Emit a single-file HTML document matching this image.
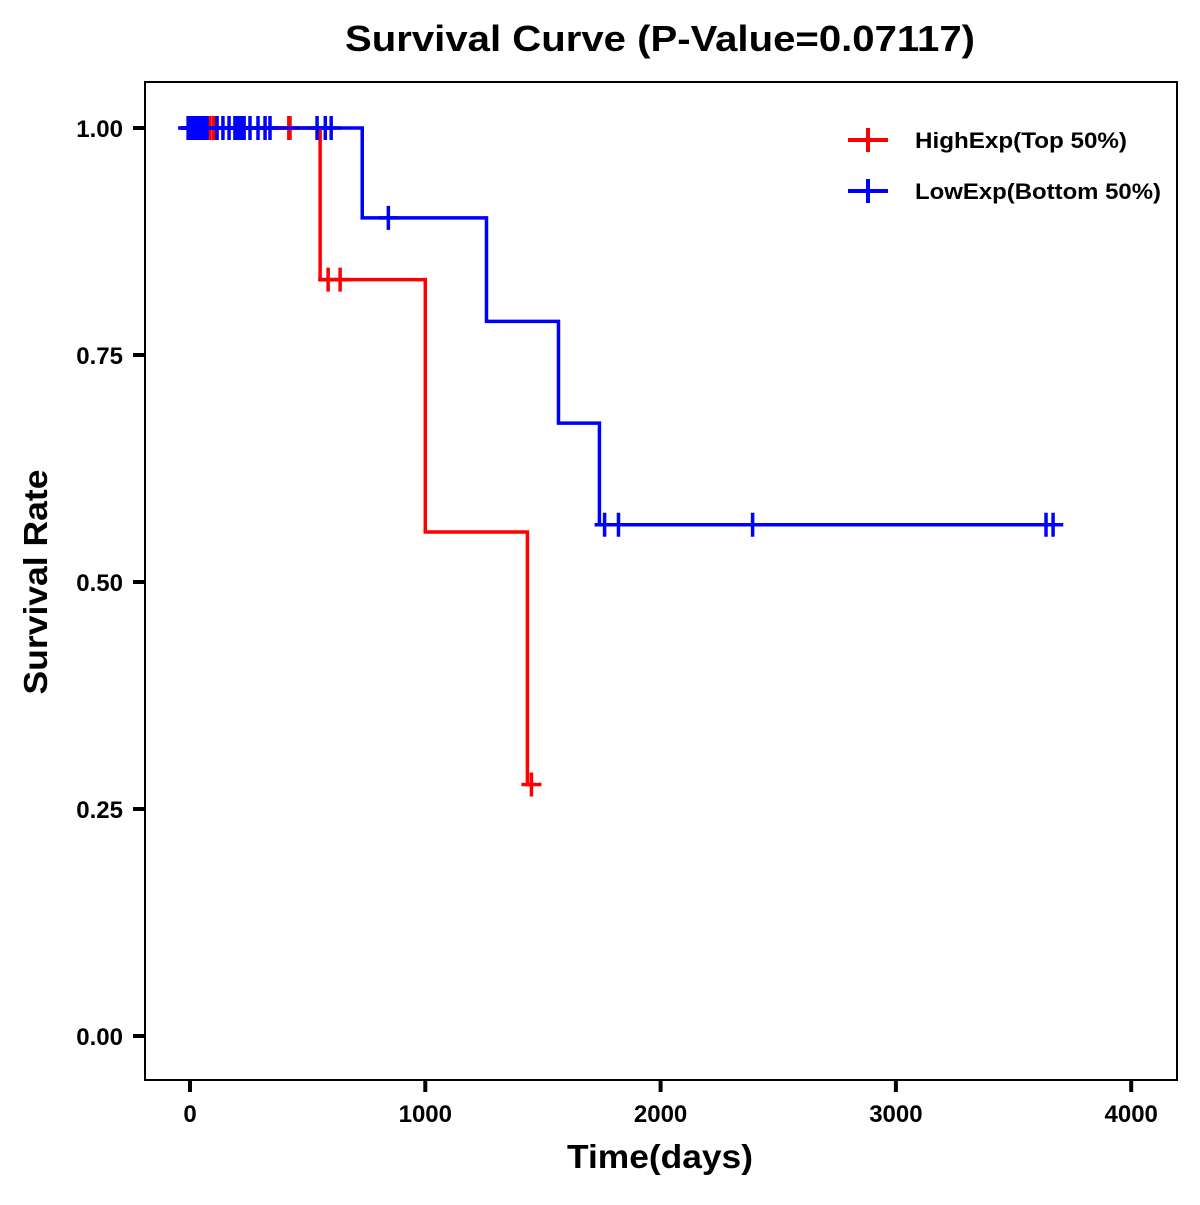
<!DOCTYPE html>
<html><head><meta charset="utf-8"><style>
body{margin:0;background:#fff}
svg text{font-family:"Liberation Sans",Arial,sans-serif;font-weight:bold}
</style></head><body>
<svg id="chart" width="1200" height="1200" xmlns="http://www.w3.org/2000/svg">
<text x="660" y="51" text-anchor="middle" font-size="36" textLength="630" lengthAdjust="spacingAndGlyphs">Survival Curve (P-Value=0.07117)</text>
<rect x="145" y="82" width="1032" height="998" fill="none" stroke="#000" stroke-width="2"/>
<g id="axes"></g>
<g id="series"></g>
<text x="660" y="1168" text-anchor="middle" font-size="33" textLength="186" lengthAdjust="spacingAndGlyphs">Time(days)</text>
<text transform="translate(47,582) rotate(-90)" text-anchor="middle" font-size="33" textLength="225" lengthAdjust="spacingAndGlyphs">Survival Rate</text>
<g>
<g>
<line x1="848" y1="140" x2="888" y2="140" stroke="#f00" stroke-width="4"/><line x1="868" y1="128" x2="868" y2="152" stroke="#f00" stroke-width="4"/>
<text x="915" y="148" font-size="22" textLength="212" lengthAdjust="spacingAndGlyphs">HighExp(Top 50%)</text></g>
<g>
<line x1="848" y1="191" x2="888" y2="191" stroke="#00f" stroke-width="4"/><line x1="868" y1="179" x2="868" y2="203" stroke="#00f" stroke-width="4"/>
<text x="915" y="199" font-size="22" textLength="246" lengthAdjust="spacingAndGlyphs">LowExp(Bottom 50%)</text></g>
</g>
</svg>
<script>
const xTicks=[0,1000,2000,3000,4000];
const yTicks=[0,0.25,0.5,0.75,1.0];
const yTickLabels=["0.00","0.25","0.50","0.75","1.00"];
const highTimes=[-40,553,1000,1434,1451];
const highSurv=[1.0,0.833,0.555,0.277,0.277];
const highCensor=[0,13,25,34,38,43,55,64,68,85,101,102,420,425,587,638,1451];
const lowTimes=[-40,732,1260,1566,1740,3711];
const lowSurv=[1.0,0.901,0.787,0.675,0.563,0.563];
const lowCensor=[-8,0,9,17,26,34,43,51,60,72,115,140,166,191,204,217,230,255,289,319,340,540,575,600,843,1762,1821,2391,3638,3668];
const X=t=>190+t*0.2353, Y=s=>1036-s*908;
const NS="http://www.w3.org/2000/svg";
function mk(tag,attrs,parent){const e=document.createElementNS(NS,tag);for(const k in attrs)e.setAttribute(k,attrs[k]);parent.appendChild(e);return e;}
const ax=document.getElementById('axes');
xTicks.forEach(v=>{
 const g=mk('g',{},ax);
 
 
 mk('line',{x1:X(v),x2:X(v),y1:1080,y2:1092,stroke:'#000','stroke-width':4},g);
 const t=mk('text',{x:X(v),y:1122,'text-anchor':'middle','font-size':24},g);t.textContent=v;
});
yTicks.forEach((v,i)=>{
 const g=mk('g',{},ax);
 
 
 mk('line',{x1:133,x2:145,y1:Y(v),y2:Y(v),stroke:'#000','stroke-width':4},g);
 const t=mk('text',{x:123,y:Y(v)+9,'text-anchor':'end','font-size':24},g);t.textContent=yTickLabels[i];
});
const sg=document.getElementById('series');
function series(name,times,surv,cens,col){
 const g=mk('g',{},sg);
 
 
 let d='M'+X(times[0])+','+Y(surv[0]);
 for(let i=1;i<times.length;i++){d+=' H'+X(times[i])+' V'+Y(surv[i]);}
 const p=mk('path',{d:d,fill:'none',stroke:col,'stroke-width':3.5},g);
 
 
 cens.forEach(c=>{
  let s=surv[0];for(let i=0;i<times.length;i++){if(times[i]<=c)s=surv[i];}
  const l=mk('path',{d:'M'+X(c)+','+(Y(s)-12)+' V'+(Y(s)+12)+' M'+(X(c)-10)+','+Y(s)+' H'+(X(c)+10),stroke:col,'stroke-width':3.5,fill:'none'},g);
  
  
 });
}
series('high-exp-curve',highTimes,highSurv,highCensor,'#f00');
series('low-exp-curve',lowTimes,lowSurv,lowCensor,'#00f');
</script>
</body></html>
